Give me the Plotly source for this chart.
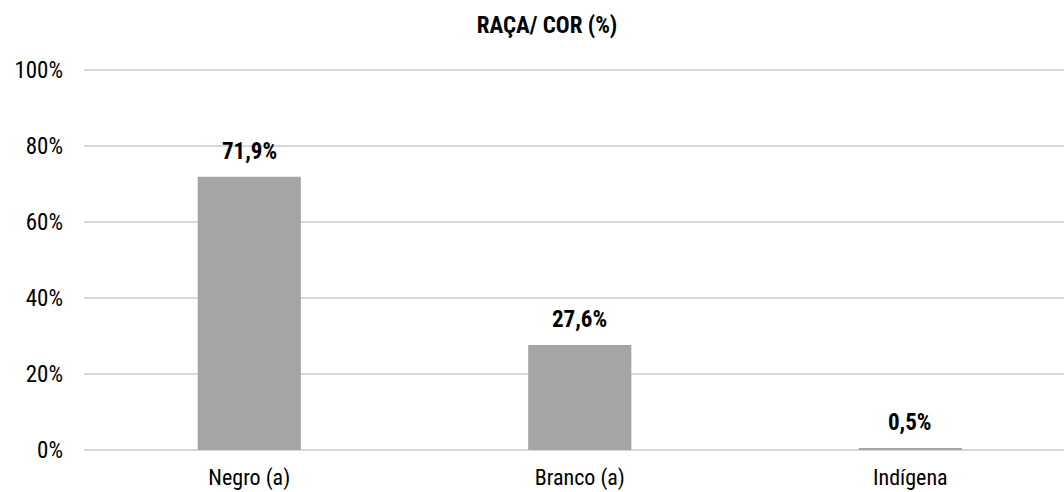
import plotly.graph_objects as go

categories = ["Negro (a)", "Branco (a)", "Indígena"]
values = [71.9, 27.6, 0.5]
value_labels = ["71,9%", "27,6%", "0,5%"]
title_text = "RAÇA/ COR (%)"
y_ticks = [0, 20, 40, 60, 80, 100]
y_tick_labels = ["0%", "20%", "40%", "60%", "80%", "100%"]

FONT = "Liberation Sans Narrow, Roboto Condensed, Arial Narrow, Liberation Sans, sans-serif"

fig = go.Figure()
fig.add_trace(go.Bar(
    x=list(range(len(categories))),
    y=values,
    width=0.312,
    marker=dict(color="#A5A5A5", line=dict(width=0)),
    hoverinfo="skip",
))

for i, (v, lab) in enumerate(zip(values, value_labels)):
    fig.add_annotation(
        x=i, y=v, text="<b>" + lab + "</b>", showarrow=False,
        xanchor="center", yanchor="bottom", yshift=10,
        font=dict(family=FONT, size=23, color="#000000"),
    )

fig.update_layout(
    width=1064, height=492,
    margin=dict(l=84, r=0, t=66, b=42),
    paper_bgcolor="white", plot_bgcolor="white",
    showlegend=False,
    font=dict(family=FONT, size=22, color="#000000"),
    title=dict(text="<b>" + title_text + "</b>", x=547 / 1064, xanchor="center",
               y=1 - 25 / 492, yanchor="middle",
               font=dict(family=FONT, size=23, color="#000000")),
    xaxis=dict(
        tickmode="array", tickvals=list(range(len(categories))), ticktext=categories,
        range=[-0.5, 2.465], showgrid=False, zeroline=False, showline=False,
        ticks="", ticklabelstandoff=12,
        tickfont=dict(family=FONT, size=22, color="#000000"),
        fixedrange=True,
    ),
    yaxis=dict(
        tickmode="array", tickvals=y_ticks, ticktext=y_tick_labels,
        range=[0, 101.05], showgrid=True, gridcolor="#D9D9D9", gridwidth=2,
        zeroline=True, zerolinecolor="#D9D9D9", zerolinewidth=2,
        showline=False, ticks="", ticklabelstandoff=20,
        tickfont=dict(family=FONT, size=23, color="#000000"),
        fixedrange=True,
    ),
)

fig.write_html(
    "out.html",
    config={"displayModeBar": False},
    post_script="document.body.style.margin='0';document.body.style.overflow='hidden';",
)
